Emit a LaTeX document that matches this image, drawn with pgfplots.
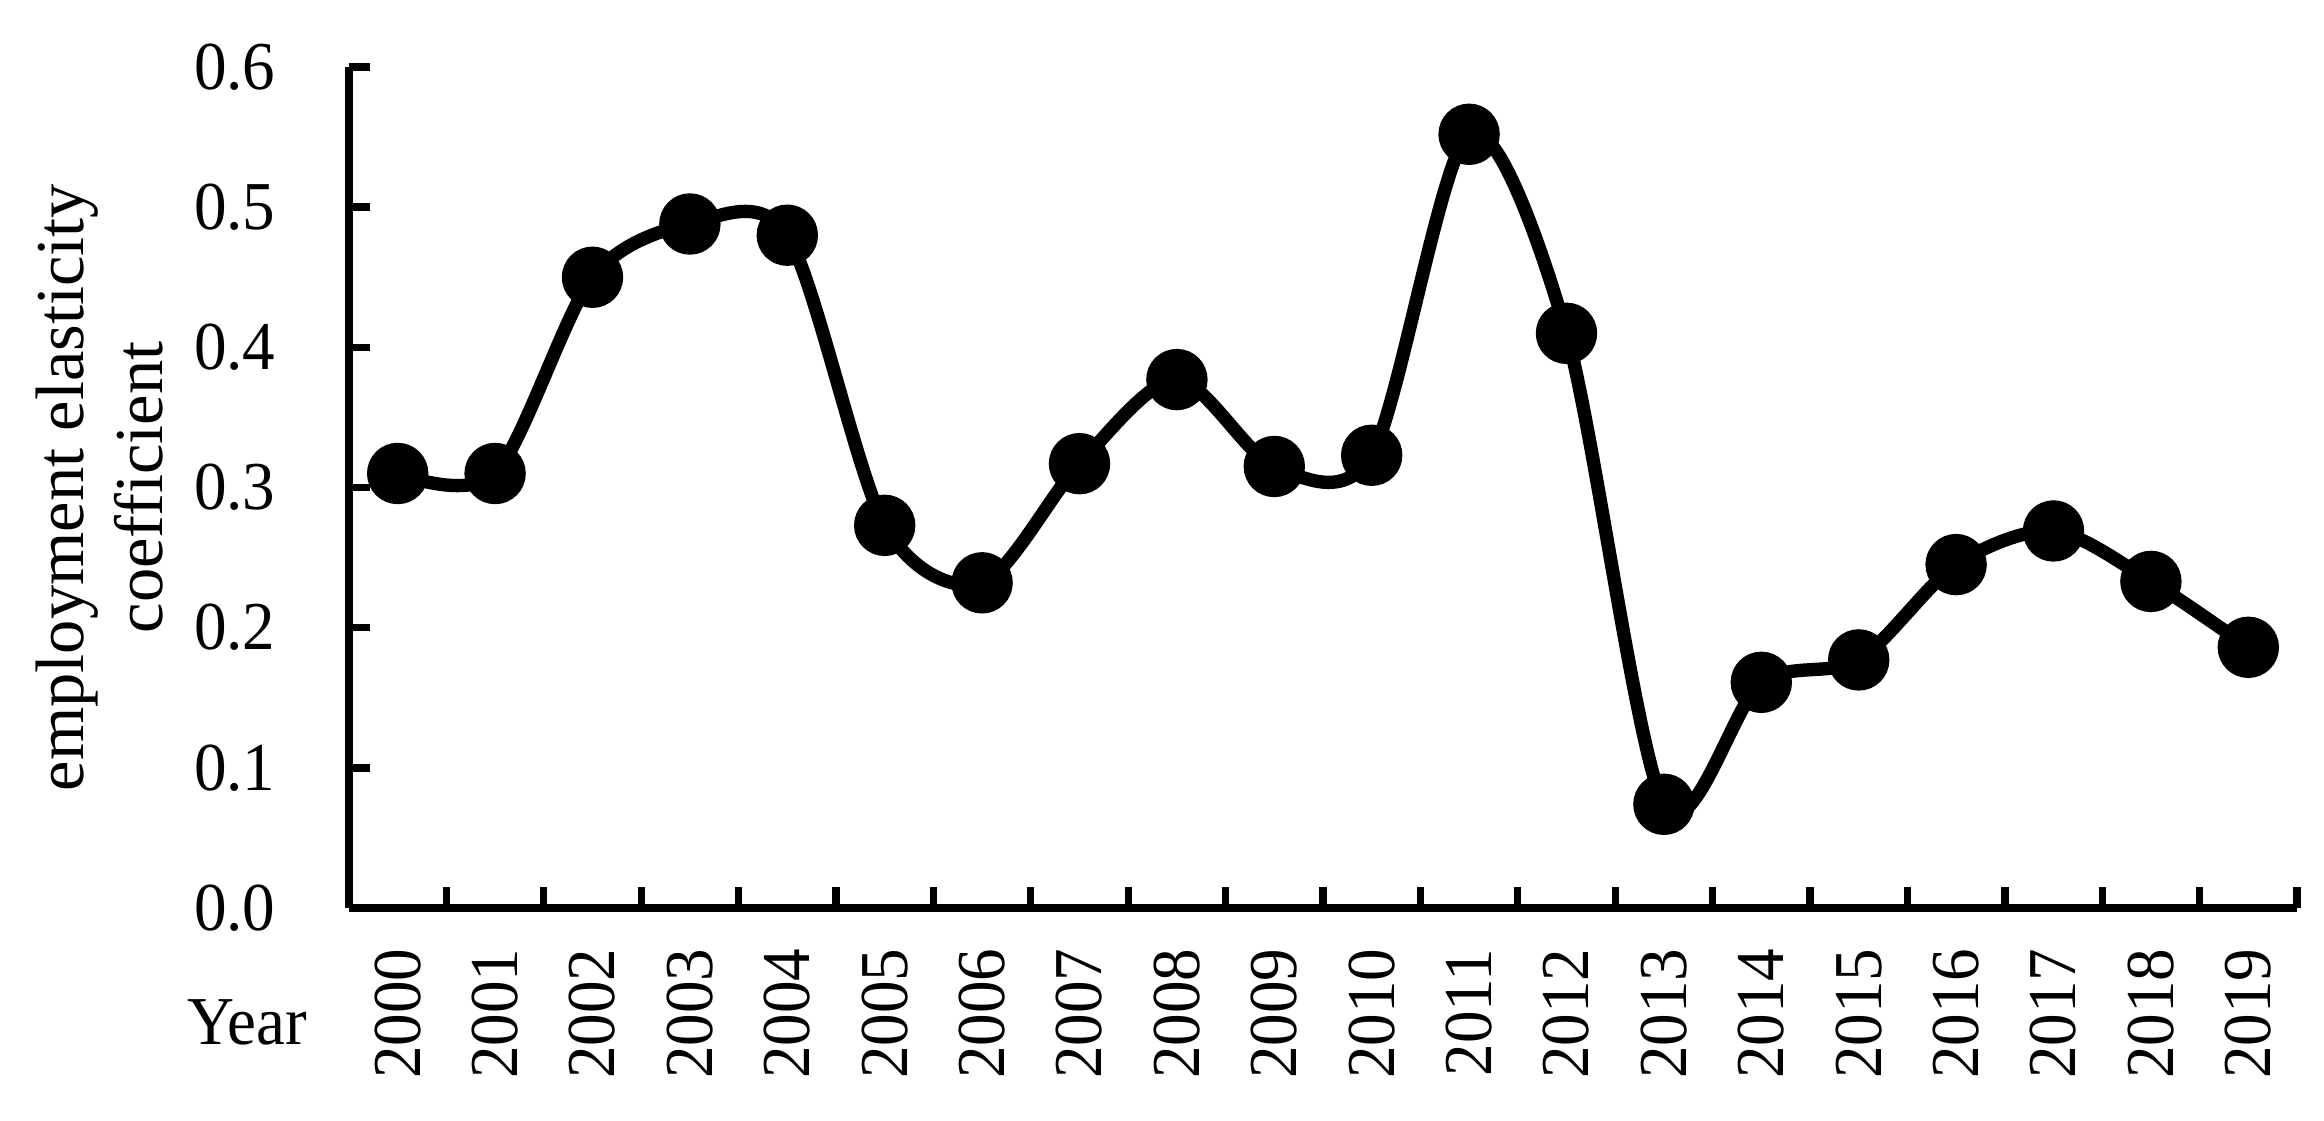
\documentclass[border=0pt]{standalone}
\usepackage{fontspec}
\setmainfont{Liberation Serif}[FakeStretch=0.95]
\newfontfamily\labelfont{Liberation Serif}
\usepackage{pgfplots}
\pgfplotsset{compat=1.18}

\begin{document}
\fontsize{19.5}{23}\selectfont
\begin{tikzpicture}
\path[use as bounding box] (-3.49,-2.12) rectangle (19.75,9.08);
\begin{axis}[
  at={(0,0)}, anchor=south west,
  scale only axis,
  width=19.48cm, height=8.41cm,
  xmin=-0.5, xmax=19.5,
  ymin=0, ymax=0.6,
  axis lines*=left,
  axis line style={line width=2.1pt},
  tick align=inside,
  major tick length=0.21cm,
  minor tick length=0.21cm,
  every tick/.style={black, line width=2.1pt},
  every major x tick/.append style={draw=none},
  xtick={0,...,19},
  minor xtick={0.5,1.5,...,19.5},
  xticklabels={2000,2001,2002,2003,2004,2005,2006,2007,2008,2009,
               2010,2011,2012,2013,2014,2015,2016,2017,2018,2019},
  xticklabel style={rotate=90, anchor=east},
  xticklabel shift=0.17cm,
  ytick={0,0.1,0.2,0.3,0.4,0.5,0.6},
  yticklabels={0.0,0.1,0.2,0.3,0.4,0.5,0.6},
  yticklabel shift=0.50cm,
  tick label style={font=\fontsize{19.5}{23}\selectfont},
  clip=false,
]
\addplot[black, line width=3.8pt, smooth, tension=0.5,
  mark=*, mark size=0.24cm, mark options={solid, fill=black}]
  coordinates {
  (0,0.310) (1,0.310) (2,0.450) (3,0.488) (4,0.480)
  (5,0.273) (6,0.232) (7,0.317) (8,0.377) (9,0.315)
  (10,0.323) (11,0.552) (12,0.410) (13,0.074) (14,0.161)
  (15,0.177) (16,0.245) (17,0.269) (18,0.233) (19,0.186)
  };
\end{axis}
\node[rotate=90, align=center, font=\labelfont\fontsize{19.5}{22.5}\selectfont]
  at (-2.49,4.205) {employment elasticity\\coefficient};
\node at (-1.02,-1.14) {Year};
\end{tikzpicture}
\end{document}
